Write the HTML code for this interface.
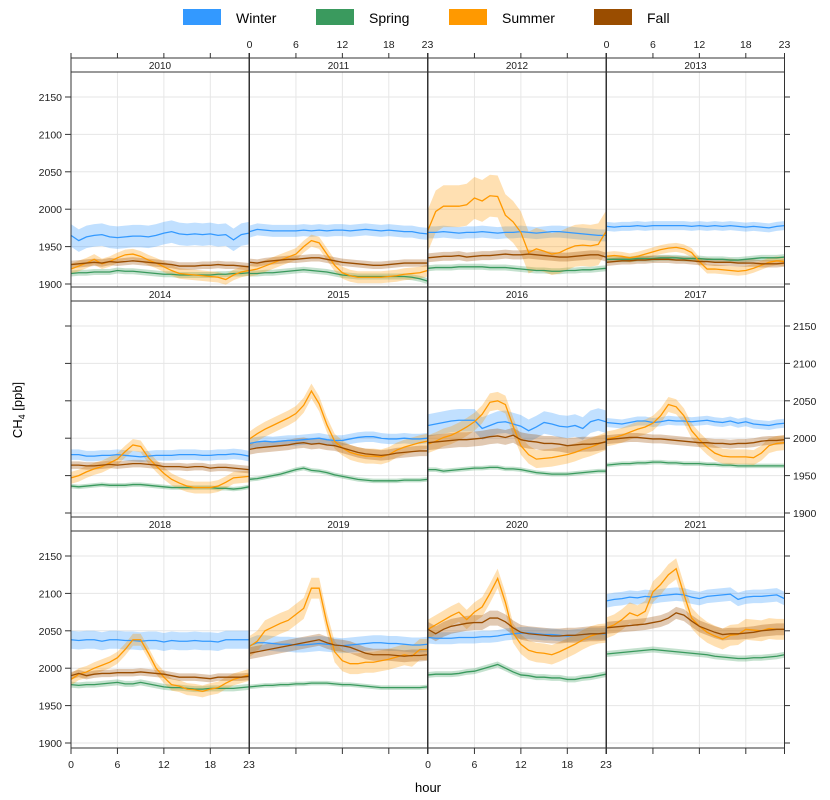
<!DOCTYPE html>
<html><head><meta charset="utf-8">
<style>
body{margin:0;background:#fff;}
svg{display:block;font-family:"Liberation Sans",Arial,sans-serif;}
</style></head>
<body>
<svg id="chart" width="830" height="800" viewBox="0 0 830 800" xmlns="http://www.w3.org/2000/svg">
<g>
 <rect x="183" y="9" width="38" height="16" fill="#3399ff"/>
 <text x="236" y="23" font-size="14">Winter</text>
 <rect x="316" y="9" width="38" height="16" fill="#3a9a5e"/>
 <text x="369" y="23" font-size="14">Spring</text>
 <rect x="449" y="9" width="38" height="16" fill="#ff9900"/>
 <text x="502" y="23" font-size="14">Summer</text>
 <rect x="594" y="9" width="38" height="16" fill="#9a4d00"/>
 <text x="647" y="23" font-size="14">Fall</text>
</g>
<text x="428" y="792" font-size="13" text-anchor="middle">hour</text>
<text transform="translate(22,410) rotate(-90)" font-size="13" text-anchor="middle">CH<tspan font-size="9" dy="3">4</tspan><tspan dy="-3"> [ppb]</tspan></text>
<g id="panels"></g>
</svg>
<script>
const years=[2010,2011,2012,2013,2014,2015,2016,2017,2018,2019,2020,2021];
const seasons=["winter","spring","summer","fall"];
const hours=[0,1,2,3,4,5,6,7,8,9,10,11,12,13,14,15,16,17,18,19,20,21,22,23];
const yTicks=[1900,1950,2000,2050,2100,2150];
const xTicks=[0,6,12,18,23];
const winter=[
[1965,1958,1963,1965,1966,1963,1962,1963,1964,1964,1963,1965,1968,1970,1967,1966,1967,1966,1967,1965,1966,1959,1966,1968],
[1970,1973,1972,1971,1971,1971,1971,1972,1971,1972,1971,1972,1972,1971,1972,1973,1972,1971,1972,1971,1970,1970,1968,1967],
[1969,1969,1970,1969,1968,1969,1969,1970,1969,1968,1969,1969,1970,1969,1968,1969,1970,1970,1969,1968,1967,1966,1965,1965],
[1977,1976,1977,1977,1978,1977,1978,1978,1978,1978,1978,1977,1978,1977,1978,1977,1978,1977,1976,1977,1976,1975,1977,1978],
[1978,1978,1976,1976,1977,1977,1978,1977,1976,1975,1976,1977,1977,1977,1978,1978,1978,1977,1977,1978,1978,1979,1978,1976],
[1993,1995,1996,1995,1996,1997,1997,1998,1999,2000,1998,1997,1997,1999,2001,2002,2002,2000,1999,1999,2000,1999,1999,2000],
[2017,2019,2021,2023,2024,2024,2024,2013,2017,2021,2022,2019,2016,2010,2015,2021,2019,2016,2015,2017,2013,2022,2025,2022],
[2021,2020,2019,2021,2023,2023,2021,2022,2024,2023,2023,2022,2023,2024,2022,2021,2023,2020,2022,2019,2018,2017,2019,2020],
[2038,2037,2038,2038,2036,2038,2038,2037,2037,2036,2037,2037,2035,2037,2036,2036,2037,2036,2036,2035,2038,2038,2038,2038],
[2030,2034,2034,2033,2032,2032,2031,2031,2032,2033,2032,2031,2030,2031,2032,2033,2034,2034,2033,2033,2032,2031,2031,2032],
[2041,2040,2040,2040,2041,2041,2041,2042,2042,2043,2045,2046,2047,2047,2046,2045,2045,2044,2043,2044,2045,2046,2046,2046],
[2090,2092,2093,2095,2094,2096,2095,2097,2098,2099,2098,2095,2093,2096,2097,2098,2099,2092,2095,2096,2096,2097,2098,2093]];
const spring=[
[1914,1915,1915,1916,1916,1916,1918,1917,1917,1916,1915,1914,1913,1913,1912,1912,1912,1912,1912,1913,1913,1914,1914,1915],
[1914,1914,1915,1915,1916,1917,1918,1919,1918,1917,1916,1914,1912,1911,1910,1910,1910,1910,1910,1910,1910,1909,1907,1904],
[1921,1922,1922,1922,1923,1923,1923,1923,1922,1922,1922,1921,1920,1919,1918,1918,1917,1917,1918,1918,1919,1919,1920,1921],
[1933,1933,1933,1933,1934,1934,1934,1935,1935,1935,1934,1934,1934,1933,1933,1933,1932,1932,1933,1934,1935,1935,1935,1936],
[1936,1935,1936,1937,1938,1937,1937,1937,1938,1938,1937,1936,1935,1934,1934,1934,1934,1934,1934,1933,1933,1932,1933,1935],
[1945,1946,1948,1950,1952,1955,1958,1960,1957,1956,1954,1951,1949,1947,1945,1944,1943,1943,1943,1943,1944,1944,1944,1945],
[1958,1958,1956,1957,1958,1959,1960,1960,1961,1961,1959,1959,1958,1956,1954,1953,1952,1952,1952,1953,1954,1955,1956,1956],
[1964,1965,1966,1966,1967,1967,1968,1968,1967,1967,1966,1966,1966,1965,1965,1964,1964,1963,1963,1963,1963,1963,1963,1963],
[1978,1977,1978,1978,1979,1980,1981,1979,1979,1981,1979,1977,1975,1974,1974,1973,1972,1972,1973,1973,1973,1973,1974,1975],
[1975,1976,1977,1977,1978,1978,1979,1979,1980,1980,1980,1979,1978,1978,1977,1976,1975,1974,1974,1974,1974,1974,1974,1975],
[1991,1992,1992,1992,1993,1995,1996,1999,2002,2005,2000,1995,1991,1990,1988,1988,1987,1987,1985,1985,1987,1988,1990,1992],
[2019,2020,2021,2022,2023,2024,2025,2024,2023,2022,2021,2020,2019,2018,2016,2015,2014,2013,2013,2014,2014,2015,2016,2018]];
const summer=[
[1920,1924,1928,1933,1927,1930,1935,1939,1940,1937,1932,1928,1923,1918,1914,1913,1912,1911,1910,1909,1906,1912,1916,1918],
[1918,1920,1924,1928,1932,1936,1940,1950,1958,1955,1940,1925,1915,1911,1909,1909,1909,1909,1910,1911,1913,1914,1915,1918],
[1972,1997,2004,2004,2004,2006,2015,2011,2018,2017,1992,1983,1969,1942,1947,1944,1940,1942,1947,1951,1952,1951,1953,1970],
[1937,1938,1937,1935,1937,1940,1943,1946,1948,1949,1947,1942,1930,1920,1920,1919,1918,1917,1918,1921,1925,1929,1931,1930],
[1947,1950,1955,1959,1962,1967,1972,1982,1991,1989,1974,1963,1953,1945,1940,1936,1934,1934,1934,1936,1941,1947,1948,1949],
[1999,2006,2012,2017,2022,2027,2033,2044,2063,2046,2018,1996,1987,1981,1978,1976,1976,1975,1978,1984,1988,1991,1994,1996],
[1992,1996,2001,2004,2009,2015,2022,2032,2048,2050,2045,2016,1990,1978,1972,1973,1974,1976,1978,1981,1985,1988,1992,1996],
[1999,2001,2004,2008,2012,2015,2020,2030,2045,2042,2030,2010,1998,1988,1980,1976,1975,1975,1975,1974,1980,1990,1993,1994],
[1985,1992,1995,2000,2004,2008,2014,2025,2038,2038,2020,2000,1988,1978,1976,1972,1971,1969,1972,1974,1980,1985,1988,1991],
[2029,2036,2050,2055,2060,2064,2072,2080,2107,2107,2060,2022,2010,2006,2006,2008,2008,2010,2012,2015,2018,2016,2025,2025],
[2052,2058,2064,2070,2075,2065,2075,2082,2100,2120,2088,2047,2032,2024,2021,2020,2018,2022,2027,2032,2038,2043,2046,2047],
[2054,2058,2065,2074,2070,2076,2102,2112,2125,2133,2099,2067,2056,2048,2043,2039,2044,2045,2052,2051,2050,2053,2052,2052]];
const fall=[
[1926,1927,1928,1929,1928,1930,1929,1930,1931,1930,1929,1928,1927,1926,1924,1924,1924,1925,1925,1926,1925,1925,1924,1923],
[1929,1928,1930,1931,1932,1933,1933,1934,1935,1935,1933,1931,1929,1928,1927,1926,1925,1925,1926,1927,1928,1928,1928,1928],
[1935,1936,1937,1937,1938,1936,1937,1938,1938,1939,1940,1939,1939,1940,1939,1938,1937,1936,1936,1937,1938,1939,1939,1936],
[1929,1930,1931,1931,1932,1932,1933,1933,1933,1932,1932,1931,1930,1930,1929,1929,1929,1928,1928,1928,1927,1927,1927,1928],
[1964,1964,1963,1963,1964,1965,1964,1965,1966,1966,1965,1964,1962,1962,1962,1961,1962,1962,1960,1961,1961,1960,1959,1958],
[1985,1987,1988,1989,1990,1991,1993,1994,1992,1993,1991,1990,1987,1984,1981,1979,1978,1977,1978,1980,1981,1982,1983,1983],
[1994,1995,1996,1997,1998,1998,1999,2000,2002,2003,2001,2004,1998,1996,1995,1993,1993,1992,1990,1991,1992,1992,1993,1995],
[1998,1999,2000,2001,2001,2000,1999,1999,1998,1997,1996,1995,1994,1994,1993,1993,1992,1993,1993,1994,1996,1997,1997,1998],
[1990,1993,1990,1992,1993,1993,1994,1994,1994,1995,1994,1993,1992,1990,1988,1988,1988,1987,1986,1988,1988,1988,1988,1989],
[2020,2022,2024,2026,2028,2030,2032,2034,2036,2038,2034,2031,2030,2028,2024,2020,2018,2018,2018,2017,2016,2017,2017,2018],
[2052,2046,2052,2056,2058,2060,2061,2061,2067,2067,2062,2054,2048,2046,2045,2044,2043,2043,2044,2044,2045,2046,2046,2047],
[2054,2055,2056,2057,2058,2059,2061,2063,2067,2074,2071,2063,2056,2052,2048,2045,2046,2046,2047,2048,2050,2051,2052,2052]];
// band half-widths (ppb) per year
const winterBand=[15,8,8,6,7,7,15,6,12,10,8,9];
const springBand=[4,4,4,4,3,3,3,3,4,3,4,4];
const summerBand=[7,8,28,6,8,10,12,10,8,14,13,14];
const fallBand=[5,5,6,5,5,7,10,6,5,8,10,8];

const colors={winter:"#3399ff",spring:"#3a9a5e",summer:"#ff9900",fall:"#9a4d00"};
const series={winter:winter,spring:spring,summer:summer,fall:fall};
const bands={winter:winterBand,spring:springBand,summer:summerBand,fall:fallBand};
const colX=[71,249.5,428,606.5], colW=178;
const stripTop=[58,287,517], panelTop=[72,301,531], panelH=[215,216,217];
const NS="http://www.w3.org/2000/svg";
const root=document.getElementById("panels");
function mk(tag,attrs,parent){const e=document.createElementNS(NS,tag);for(const k in attrs)e.setAttribute(k,attrs[k]);(parent||root).appendChild(e);return e;}
function xScale(c,h){return colX[c]+h/23*colW;}
function yScale(r,v){return panelTop[r]+25+(2150-v)*0.748;}

years.forEach((yr,i)=>{
  const c=i%4, r=Math.floor(i/4);
  const g=mk("g",{});
  
  
  const clip=mk("clipPath",{id:"clip"+i},g);
  mk("rect",{x:colX[c],y:panelTop[r],width:colW,height:panelH[r]},clip);
  yTicks.forEach(t=>{const l=mk("line",{x1:colX[c],x2:colX[c]+colW,y1:yScale(r,t),y2:yScale(r,t),stroke:"#e6e6e6","stroke-width":1},g);
    
    });
  [6,12,18].forEach(h=>{const l=mk("line",{x1:xScale(c,h),x2:xScale(c,h),y1:panelTop[r],y2:panelTop[r]+panelH[r],stroke:"#e6e6e6","stroke-width":1},g);
    
    });
  const dg=mk("g",{"clip-path":"url(#clip"+i+")"},g);
  seasons.forEach(s=>{
    const m=series[s][i], b=bands[s][i];
    let up=hours.map(h=>xScale(c,h)+","+yScale(r,m[h]+b));
    let lo=hours.slice().reverse().map(h=>xScale(c,h)+","+yScale(r,m[h]-b));
    const poly=mk("polygon",{points:up.concat(lo).join(" "),fill:colors[s],"fill-opacity":0.3,stroke:"none"},dg);
    
    
  });
  seasons.forEach(s=>{
    const m=series[s][i];
    const pl=mk("polyline",{points:hours.map(h=>xScale(c,h)+","+yScale(r,m[h])).join(" "),fill:"none",stroke:colors[s],"stroke-width":1.3},dg);
    
    
  });
  mk("rect",{x:colX[c],y:panelTop[r],width:colW,height:panelH[r],fill:"none",stroke:"#333","stroke-width":1},g);
  const st=mk("rect",{x:colX[c],y:stripTop[r],width:colW,height:14,fill:"#fff",stroke:"#333","stroke-width":1},g);
  
  
  const tx=mk("text",{x:colX[c]+colW/2,y:stripTop[r]+11,"font-size":10,"text-anchor":"middle",fill:"#222"},g);
  tx.textContent=yr;
  
  
});
for(let r=0;r<3;r++){
  const g=mk("g",{});
  
  
  yTicks.forEach(t=>{
    const y=yScale(r,t);
    mk("line",{x1:65,x2:71,y1:y,y2:y,stroke:"#333"},g);
    mk("line",{x1:784,x2:790,y1:y,y2:y,stroke:"#333"},g);
    const lt=mk("text",{x:r==1?793:62,y:y+4,"font-size":10.5,"text-anchor":r==1?"start":"end",fill:"#222"},g);
    lt.textContent=t;
    
    
  });
}
for(let c=0;c<4;c++){
  const g=mk("g",{});
  
  
  xTicks.forEach(h=>{
    const x=xScale(c,h);
    mk("line",{x1:x,x2:x,y1:53,y2:58,stroke:"#333"},g);
    mk("line",{x1:x,x2:x,y1:748,y2:754,stroke:"#333"},g);
    if(c%2==1){const t=mk("text",{x:x,y:48,"font-size":10.5,"text-anchor":"middle",fill:"#222"},g);t.textContent=h;
      
      }
    else{const t=mk("text",{x:x,y:768,"font-size":10.5,"text-anchor":"middle",fill:"#222"},g);t.textContent=h;
      
      }
  });
}
mk("line",{x1:71,x2:784,y1:58,y2:58,stroke:"#333"});
</script>
</body></html>
